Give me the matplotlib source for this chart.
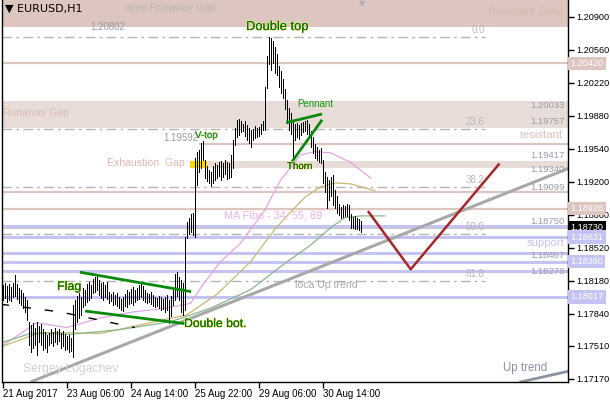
import matplotlib
matplotlib.use("Agg")
import matplotlib.pyplot as plt
import matplotlib.patheffects as pe
from matplotlib.transforms import blended_transform_factory

plt.rcParams['font.family'] = ['Liberation Sans', 'DejaVu Sans']

# ---- H1 bars (bar index 0 = 21 Aug 22:00) ----
highs = [
    1.1814, 1.1816, 1.1813, 1.1815, 1.1812, 1.1816, 1.1824, 1.1815, 1.1811, 1.1809,
    1.1806, 1.1801, 1.1798, 1.1776, 1.1773, 1.1775, 1.1770, 1.1776, 1.1772, 1.1774,
    1.1768, 1.1765, 1.1762, 1.1764, 1.1768, 1.1765, 1.1770, 1.1766, 1.1769, 1.1764,
    1.1766, 1.1763, 1.1761, 1.1762, 1.1759, 1.1793, 1.1798, 1.1803, 1.1806, 1.1801,
    1.1811, 1.1809, 1.1815, 1.1817, 1.1814, 1.1820, 1.1822, 1.1824, 1.1819, 1.1816,
    1.1817, 1.1814, 1.1817, 1.1807, 1.1805, 1.1807, 1.1804, 1.1806, 1.1801, 1.1799,
    1.1801, 1.1805, 1.1809, 1.1807, 1.1810, 1.1812, 1.1809, 1.1811, 1.1814, 1.1816,
    1.1813, 1.1809, 1.1806, 1.1805, 1.1807, 1.1804, 1.1801, 1.1800, 1.1802, 1.1801,
    1.1799, 1.1801, 1.1804, 1.1798, 1.1803, 1.1809, 1.1825, 1.1827, 1.1822, 1.1819,
    1.1816, 1.1863, 1.1879, 1.1883, 1.1887, 1.1888, 1.1945, 1.1951, 1.1953, 1.1960,
    1.1962, 1.1943, 1.1936, 1.1932, 1.1930, 1.1936, 1.1940, 1.1937, 1.1941, 1.1942,
    1.1940, 1.1943, 1.1941, 1.1940, 1.1948, 1.1963, 1.1976, 1.1984, 1.1985, 1.1983,
    1.1980, 1.1983, 1.1979, 1.1976, 1.1974, 1.1975, 1.1978, 1.1976, 1.1977, 1.1980,
    1.1983, 1.2018, 1.2050, 1.2069, 1.2068, 1.2065, 1.2059, 1.2052, 1.2039, 1.2034,
    1.2026, 1.2016, 1.2004, 1.1996, 1.1991, 1.1983, 1.1980, 1.1981, 1.1979, 1.1981,
    1.1982, 1.1983, 1.1984, 1.1980, 1.1972, 1.1966, 1.1959, 1.1956, 1.1953, 1.1955,
    1.1943, 1.1930, 1.1925, 1.1922, 1.1925, 1.1927, 1.1912, 1.1905, 1.1897, 1.1894,
    1.1896, 1.1895, 1.1897, 1.1896, 1.1887, 1.1884, 1.1885, 1.1883, 1.1882, 1.1880,
]
lows = [
    1.1798, 1.1800, 1.1796, 1.1798, 1.1797, 1.1801, 1.1802, 1.1799, 1.1795, 1.1793,
    1.1790, 1.1786, 1.1778, 1.1752, 1.1745, 1.1749, 1.1752, 1.1742, 1.1755, 1.1752,
    1.1747, 1.1749, 1.1745, 1.1752, 1.1754, 1.1751, 1.1755, 1.1753, 1.1756, 1.1749,
    1.1751, 1.1747, 1.1748, 1.1745, 1.1746, 1.1740, 1.1768, 1.1776, 1.1780, 1.1783,
    1.1791, 1.1793, 1.1796, 1.1798, 1.1800, 1.1806, 1.1807, 1.1809, 1.1804, 1.1800,
    1.1798, 1.1801, 1.1799, 1.1795, 1.1797, 1.1793, 1.1794, 1.1792, 1.1790, 1.1788,
    1.1787, 1.1792, 1.1791, 1.1794, 1.1795, 1.1793, 1.1796, 1.1798, 1.1799, 1.1801,
    1.1798, 1.1796, 1.1795, 1.1796, 1.1794, 1.1792, 1.1791, 1.1792, 1.1790, 1.1788,
    1.1789, 1.1786, 1.1788, 1.1775, 1.1782, 1.1793, 1.1798, 1.1803, 1.1798, 1.1786,
    1.1783, 1.1788, 1.1862, 1.1866, 1.1868, 1.1865, 1.1863, 1.1917, 1.1930, 1.1934,
    1.1943, 1.1924, 1.1921, 1.1919, 1.1916, 1.1919, 1.1922, 1.1924, 1.1926, 1.1922,
    1.1925, 1.1928, 1.1923, 1.1924, 1.1925, 1.1934, 1.1958, 1.1966, 1.1968, 1.1971,
    1.1972, 1.1967, 1.1963, 1.1960, 1.1956, 1.1963, 1.1965, 1.1966, 1.1967, 1.1969,
    1.1974, 1.1974, 1.2017, 1.2041, 1.2035, 1.2042, 1.2032, 1.2030, 1.2018, 1.2012,
    1.2006, 1.1995, 1.1981, 1.1974, 1.1969, 1.1943, 1.1963, 1.1966, 1.1964, 1.1968,
    1.1971, 1.1972, 1.1969, 1.1965, 1.1956, 1.1950, 1.1945, 1.1943, 1.1941, 1.1939,
    1.1919, 1.1910, 1.1893, 1.1901, 1.1905, 1.1896, 1.1893, 1.1888, 1.1886, 1.1883,
    1.1884, 1.1885, 1.1885, 1.1881, 1.1873, 1.1873, 1.1872, 1.1871, 1.1870, 1.1868,
]

# ---- MA Fibo 34 / 55 / 89 (shifted forward) ----
ma34_x = [-1, 17, 32, 49, 65, 82, 94, 100, 109, 119, 131, 139, 144, 149, 156, 164, 174, 184]
ma34_y = [1.1750, 1.1775, 1.1770, 1.1780, 1.1786, 1.1790, 1.1795, 1.1814, 1.1838,
          1.1857, 1.1891, 1.1922, 1.1935, 1.1948, 1.1951, 1.1950, 1.1940, 1.1924]
ma55_x = [-1, 19, 49, 74, 92, 107, 124, 136, 144, 151, 159, 166, 174, 186]
ma55_y = [1.1750, 1.1765, 1.1764, 1.1775, 1.1783, 1.1804, 1.1838, 1.1871, 1.1889,
          1.1904, 1.1915, 1.1919, 1.1918, 1.1911]
ma89_x = [-1, 14, 34, 59, 84, 104, 124, 141, 154, 164, 171, 179, 191]
ma89_y = [1.1754, 1.1764, 1.1763, 1.1768, 1.1776, 1.1790, 1.1809, 1.1836, 1.1855,
          1.1873, 1.1883, 1.1885, 1.1885]
ma_long_x = [-1, 29, 66]
ma_long_y = [1.1794, 1.1786, 1.1770]

# ---- drawn objects ----
trend_x, trend_y = [14, 283], [1.1714, 1.1934]
uptrend_x, uptrend_y = [259, 283], [1.1714, 1.1725]
zigzag_x, zigzag_y = [183, 204, 248], [1.1889, 1.1830, 1.1938]
flag_up_x, flag_up_y = [38.6, 94.2], [1.1827, 1.1807]
flag_lo_x, flag_lo_y = [41.2, 91.2], [1.1787, 1.1774]
pen_up_x, pen_up_y = [141.7, 159.7], [1.1981, 1.1990]
pen_lo_x, pen_lo_y = [144.7, 159.7], [1.1941, 1.1984]

# ---- levels ----
resist_zone = (1.2080, 1.2120)
runaway_gap = (1.19757, 1.20033)
exhaust_gap = (1.19340, 1.19417)
vtop_level = 1.19592
rosy_levels = [1.20420, 1.19099, 1.18926]
blue_levels = [1.18750, 1.18631, 1.18467, 1.18380, 1.18278, 1.18017]
fib_names = ['0.0', '23.6', '38.2', '50.0', '61.8']
fib_levels = [1.2069, 1.1975, 1.1915, 1.1866, 1.1818]
last_price = 1.18730

yticks = [1.20900, 1.20560, 1.20220, 1.19880, 1.19540, 1.19200,
          1.18860, 1.18520, 1.18180, 1.17840, 1.17510, 1.17170]
xtick_pos = [0, 32, 64, 96, 128, 160]
xtick_lbl = ['21 Aug 2017', '23 Aug 06:00', '24 Aug 14:00',
             '25 Aug 22:00', '29 Aug 06:00', '30 Aug 14:00']

ROSY = '#dcc6bf'
ROSY_LT = '#e8dcd8'
BLUE = '#c4c4f4'
GREY_TXT = '#9a9aaa'
GREEN = '#0a6e0a'

fig = plt.figure(figsize=(6.1, 4), dpi=100)
ax = fig.add_axes([2 / 610, 18 / 400, 566 / 610, 382 / 400])
ax.set_xlim(-0.35, 282.65)
ax.set_ylim(1.17139, 1.21074)

# zones and levels
ax.axhspan(*resist_zone, color=ROSY, lw=0, zorder=0)
ax.axhspan(*runaway_gap, color=ROSY_LT, lw=0, zorder=0)
ax.fill_between([93.7, 283], exhaust_gap[0], exhaust_gap[1], color=ROSY_LT, lw=0, zorder=0)
ax.fill_between([93.7, 102.2], exhaust_gap[0], exhaust_gap[1], color='#ffd700', lw=0, zorder=1)
ax.hlines(vtop_level, 98, 283, color=ROSY, lw=1.6, zorder=1)
for lv in rosy_levels:
    ax.axhline(lv, color=ROSY, lw=1.6, zorder=1)
for lv in blue_levels:
    ax.axhline(lv, color=BLUE, lw=2.2, zorder=1)
ax.axhline(last_price, color='#c8c8c8', lw=0.8, zorder=1)
for name, lv in zip(fib_names, fib_levels):
    ax.hlines(lv, -0.35, 241, color='#b4b4b4', lw=1, linestyles=(0, (7, 3, 2, 3)), zorder=1)
    ax.text(241, lv + 0.0002, name, ha='right', va='bottom', fontsize=7, color='#b8b8b8')

# moving averages
ax.plot(ma34_x, ma34_y, color='#e4a4e4', lw=0.9, zorder=2)
ax.plot(ma55_x, ma55_y, color='#c8b870', lw=0.9, zorder=2)
ax.plot(ma89_x, ma89_y, color='#88b888', lw=0.9, zorder=2)
ax.plot(ma_long_x, ma_long_y, color='black', lw=1, ls=(0, (6, 10)), zorder=2)

# trend lines
ax.plot(trend_x, trend_y, color='#a8a8a8', lw=2.2, zorder=2, solid_capstyle='butt')
ax.plot(uptrend_x, uptrend_y, color='#8892a2', lw=2, zorder=2)
ax.plot(zigzag_x, zigzag_y, color='#a52828', lw=1.8, zorder=4)

# bars
ax.vlines(range(len(highs)), lows, highs, color='black', lw=0.55,
          antialiased=False, zorder=3)

# patterns
for xs, ys in [(flag_up_x, flag_up_y), (flag_lo_x, flag_lo_y),
               (pen_up_x, pen_up_y), (pen_lo_x, pen_lo_y)]:
    ax.plot(xs, ys, color='#0a8a0a', lw=2, zorder=4, solid_capstyle='butt')


def px(x, y):
    return ((x - 2) / 566, (382 - y) / 382)


def label(x, y, s, color, size=7.5, ha='left', shadow=False, **kw):
    fx, fy = px(x, y)
    t = ax.text(fx, fy, s, transform=ax.transAxes, ha=ha, va='center',
                fontsize=size, color=color, zorder=6, **kw)
    if shadow:
        t.set_path_effects([pe.withStroke(linewidth=1.0, foreground='#f4f080'), pe.Normal()])
    return t


label(5, 9, '\u25BC EURUSD,H1', 'black', 8, family=['DejaVu Sans'])
label(170, 8, 'open Runaway Gap', '#b8b8b8', 7.5, ha='center')
label(563, 12, 'Resistant Zone', '#d4b8b0', 8, ha='right')
label(90, 27, '1.20802', GREY_TXT, 7)
label(246, 27, 'Double top', GREEN, 9.3, shadow=True)
label(3, 113, 'Runaway Gap', '#dcbcb4', 7.5)
label(297, 104, 'Pennant', '#109a10', 7)
label(562, 135, 'resistant', '#d8c0b8', 8.2, ha='right')
label(163, 138, '1.19592', GREY_TXT, 7)
label(195, 135, 'V-top', '#1a8a6a', 7, shadow=True)
label(185, 163, 'Exhaustion  Gap', '#dcb8b0', 7.6, ha='right')
label(287, 166, 'Thorn', '#106010', 7, shadow=True)
label(224, 216, 'MA Fibo - 34; 55; 89', '#e8b4e8', 7.8)
label(565, 243, 'support', '#c4c4f0', 8.2, ha='right')
label(57, 287, 'Flag', GREEN, 9, shadow=True)
label(295, 285, 'loca Up trend', '#a8a8b0', 7.6)
label(184, 324, 'Double bot.', GREEN, 8.8, shadow=True)
label(23, 369, 'Sergey Logachev', '#d0d0d0', 8.8)
label(503, 368, 'Up trend', '#8890a4', 8.3)
label(362, 4, '\u25BC', '#b0b0b8', 6, ha='center', family=['DejaVu Sans'])

for y, s in [(105, '1.20033'), (121, '1.19757'), (155, '1.19417'), (170, '1.19340'),
             (187, '1.19099'), (222, '1.18750'), (256, '1.18467'), (271, '1.18278')]:
    label(565, y, s, GREY_TXT, 6.8, ha='right')

# axes styling
for side in ['left', 'bottom', 'right']:
    ax.spines[side].set_color('black')
    ax.spines[side].set_linewidth(1)
ax.spines['top'].set_visible(False)
ax.yaxis.tick_right()
ax.set_yticks(yticks)
ax.set_yticklabels([f'{v:.5f}' for v in yticks])
ax.tick_params(axis='y', direction='out', length=4, width=1, labelsize=6.6, pad=2)
ax.set_xticks(xtick_pos)
ax.set_xticklabels(xtick_lbl)
ax.tick_params(axis='x', direction='out', length=4, width=1, labelsize=7, pad=1)
for t in ax.get_xticklabels():
    t.set_horizontalalignment('left')

# price boxes on the scale
tr = blended_transform_factory(ax.transAxes, ax.transData)
boxes = [(1.20420, ROSY, 'white'), (1.18926, ROSY, 'white'), (1.18730, 'black', 'white'),
         (1.18631, BLUE, 'white'), (1.18380, BLUE, 'white'), (1.18017, BLUE, 'white')]
for v, fc, tc in boxes:
    ax.text(1.004, v, f'{v:.5f}', transform=tr, ha='left', va='center', fontsize=6.6,
            color=tc, zorder=7, clip_on=False,
            bbox=dict(boxstyle='square,pad=0.25', fc=fc, ec='none'))

fig.savefig('out.png', dpi=100)
